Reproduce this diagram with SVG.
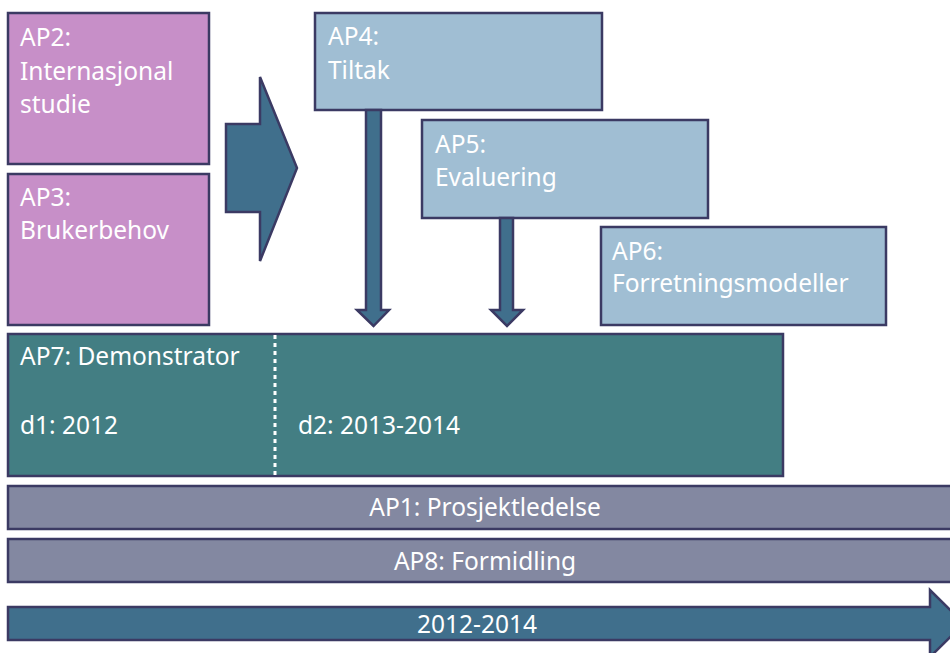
<svg xmlns="http://www.w3.org/2000/svg" width="950" height="653" viewBox="0 0 950 653">
  <style>
    .box { stroke: #3b3a63; stroke-width: 2.5; }
    .purple { fill: #c78fc8; }
    .light { fill: #a0bed3; }
    .teal { fill: #437e83; }
    .bar { fill: #8388a1; }
    .arrow { fill: #406f8c; stroke: #3b3a63; stroke-width: 2.5; stroke-linejoin: miter; }
    text { font-family: "Noto Sans", "Open Sans", sans-serif; font-size: 24.5px; fill: #ffffff; }
    .mid { text-anchor: middle; }
  </style>

  <!-- AP2 -->
  <g id="ap2">
    <rect class="box purple" x="8" y="13" width="201" height="151"/>
    <text x="20" y="46">AP2:</text>
    <text x="20" y="80">Internasjonal</text>
    <text x="20" y="113">studie</text>
  </g>

  <!-- AP3 -->
  <g id="ap3">
    <rect class="box purple" x="8" y="174" width="201" height="151"/>
    <text x="20" y="206">AP3:</text>
    <text x="20" y="239">Brukerbehov</text>
  </g>

  <!-- AP4 -->
  <g id="ap4">
    <rect class="box light" x="315" y="13" width="287" height="97"/>
    <text x="328" y="45">AP4:</text>
    <text x="328" y="79">Tiltak</text>
  </g>

  <!-- AP5 -->
  <g id="ap5">
    <rect class="box light" x="422" y="120" width="286" height="98"/>
    <text x="435" y="153">AP5:</text>
    <text x="435" y="186">Evaluering</text>
  </g>

  <!-- AP6 -->
  <g id="ap6">
    <rect class="box light" x="601" y="227" width="285" height="98"/>
    <text x="612" y="260">AP6:</text>
    <text x="612" y="292">Forretningsmodeller</text>
  </g>

  <!-- AP7 with its two phases -->
  <g id="ap7">
    <rect class="box teal" x="8" y="334" width="775" height="142"/>
    <line x1="275" y1="335" x2="275" y2="475" stroke="#ffffff" stroke-width="3" stroke-dasharray="4 4"/>
    <text x="20" y="365">AP7: Demonstrator</text>
    <text x="20" y="434">d1: 2012</text>
    <text x="298" y="434">d2: 2013-2014</text>
  </g>

  <!-- AP1 -->
  <g id="ap1">
    <rect class="box bar" x="8" y="486" width="960" height="43"/>
    <text class="mid" x="485" y="516">AP1: Prosjektledelse</text>
  </g>

  <!-- AP8 -->
  <g id="ap8">
    <rect class="box bar" x="8" y="539" width="960" height="43"/>
    <text class="mid" x="485" y="570">AP8: Formidling</text>
  </g>

  <!-- Timeline -->
  <g id="timeline">
    <polygon class="arrow" points="8,607 930,607 930,590 964,623.5 930,657 930,640 8,640"/>
    <text class="mid" x="477" y="633">2012-2014</text>
  </g>

  <!-- Connectors -->
  <g id="connectors">
    <polygon class="arrow" points="226,124 260,124 260,77 297,168 260,261 260,212 226,212"/>
    <polygon class="arrow" points="366,110 381,110 381,310 389,310 373.5,326 357,310 366,310"/>
    <polygon class="arrow" points="500,218 513,218 513,310 523,310 507,326 491,310 500,310"/>
  </g>
</svg>
